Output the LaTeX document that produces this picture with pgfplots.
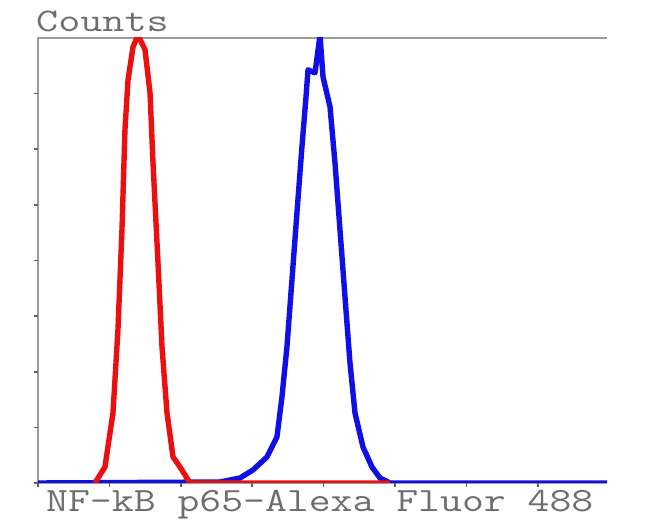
\documentclass[border=0pt]{standalone}
\usepackage{fontspec}
\usepackage{pgfplots}
\pgfplotsset{compat=1.18}
\definecolor{txt}{RGB}{110,110,110}
\definecolor{ax}{RGB}{155,155,155}
\definecolor{tk}{RGB}{95,95,105}
\definecolor{cred}{RGB}{235,15,15}
\definecolor{cblue}{RGB}{15,15,230}
\begin{document}
\begin{tikzpicture}[x=1pt,y=1pt]
\path[use as bounding box] (0,0) rectangle (650,532);
% frame (left, top, bottom) drawn beneath the curves
\draw[ax, line width=2.6pt] (38,49) -- (38,494) -- (607,494);
\draw[ax, line width=2.6pt] (38,49) -- (607,49);
\begin{axis}[
  at={(38pt,49pt)}, anchor=south west,
  scale only axis, width=569pt, height=445pt,
  xmin=0, xmax=7.97, ymin=0, ymax=8,
  axis line style={draw=none},
  xtick={0,1,...,7}, ytick={0,1,...,7},
  xticklabels={,,,,,,,}, yticklabels={,,,,,,,},
  xtick pos=bottom, ytick pos=left,
  tick align=outside, major tick length=4pt,
  tick style={tk, line width=1.6pt},
  no markers,
]
\addplot[cblue, line width=5.4pt, line join=round] coordinates {
(0,0) (2.549,0.018) (2.829,0.09) (3.011,0.234) (3.207,0.468) (3.347,0.827)
(3.417,1.547) (3.487,2.446) (3.557,3.651) (3.627,4.856) (3.697,6.043)
(3.754,6.942) (3.782,7.428) (3.880,7.374) (3.950,8.05) (3.992,7.302)
(4.090,6.763) (4.160,5.755) (4.230,4.550) (4.300,3.345) (4.370,2.158)
(4.440,1.259) (4.552,0.647) (4.678,0.288) (4.790,0.09) (4.930,0) (7.97,0)
};
\addplot[cred, line width=5.4pt, line join=round] coordinates {
(0.798,0) (0.938,0.288) (1.050,1.259) (1.120,2.752) (1.176,4.550)
(1.218,6.349) (1.261,7.248) (1.331,7.842) (1.401,8.05) (1.499,7.788)
(1.569,7.014) (1.611,5.755) (1.681,3.957) (1.737,2.446) (1.807,1.259)
(1.891,0.468) (1.989,0.288) (2.129,0) (4.93,0)
};
\end{axis}
\node[anchor=base west, inner sep=0pt, text=txt, font=\ttfamily\fontsize{33}{40}\selectfont] at (36,500) {\scalebox{1.3}[1]{Counts}};
\node[anchor=base west, inner sep=0pt, text=txt, font=\ttfamily\fontsize{34}{40}\selectfont] at (46,20) {\scalebox{1.25}[1]{NF-kB p65-Alexa Fluor 488}};
\end{tikzpicture}
\end{document}
